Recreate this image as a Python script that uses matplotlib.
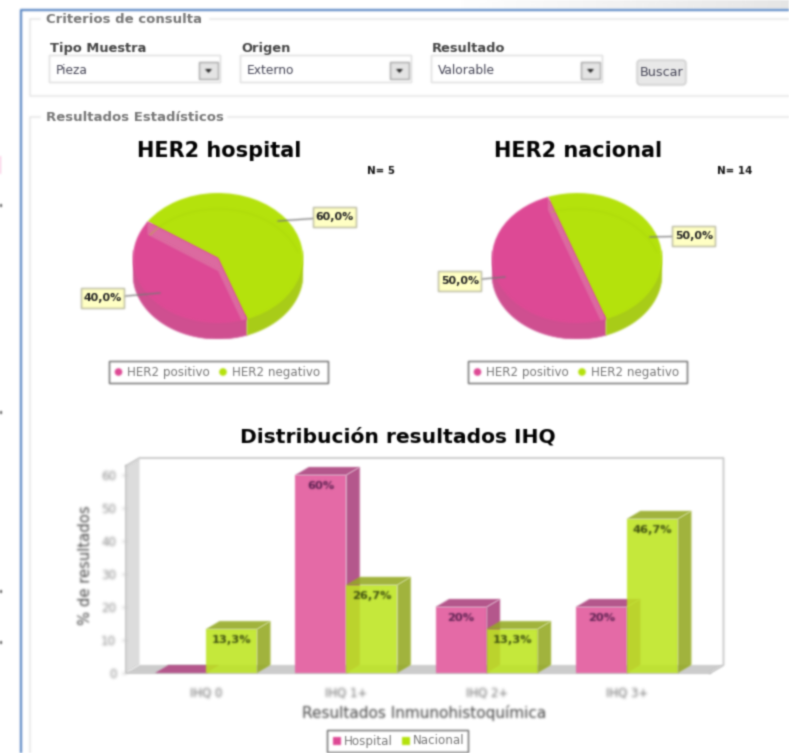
import numpy as np
import matplotlib
matplotlib.use("Agg")
import matplotlib.pyplot as plt
from matplotlib.patches import Polygon, Rectangle, FancyBboxPatch, Circle

W, H = 789, 753

pie_labels = ["HER2 positivo", "HER2 negativo"]
hospital_pie = [40.0, 60.0]
nacional_pie = [50.0, 50.0]

categories = ["IHQ 0", "IHQ 1+", "IHQ 2+", "IHQ 3+"]
hospital = [0, 60, 20, 20]
nacional = [13.3, 26.7, 13.3, 46.7]
hospital_txt = ["", "60%", "20%", "20%"]
nacional_txt = ["13,3%", "26,7%", "13,3%", "46,7%"]
yticks = [0, 10, 20, 30, 40, 50, 60]

PINK = "#de4a95"
PINK_SIDE = "#cf4f91"
PINK_BAND = "#dc6aa0"
GREEN = "#b5e20c"
GREEN_SIDE = "#a9cc18"


def soften(img, k):
    pad = 4
    im = np.pad(img, ((pad, pad), (pad, pad), (0, 0)))
    im[..., :3] *= im[..., 3:4]
    for axis in (0, 1):
        im = np.apply_along_axis(lambda v: np.convolve(v, k, mode="same"), axis, im)
    a = np.clip(im[..., 3:4], 1e-4, 1)
    im[..., :3] = np.clip(im[..., :3] / a, 0, 1)
    return im, -pad, -pad


def blur(img, dpi):
    # soft look of the screenshot, numpy only
    return soften(img, np.array([0.06, 0.24, 0.4, 0.24, 0.06]))


def blur_text(img, dpi):
    return soften(img, np.array([0.02, 0.2, 0.56, 0.2, 0.02]))


def box(x0, y0, x1, y1):
    # pixel box -> figure fraction
    return [x0 / W, 1 - y1 / H, (x1 - x0) / W, (y1 - y0) / H]


fig = plt.figure(figsize=(W / 100, H / 100), dpi=100, facecolor="white")

ui = fig.add_axes([0, 0, 1, 1])
ui.set_xlim(0, W)
ui.set_ylim(H, 0)
ui.axis("off")

# top right grey strip and blue frame
ui.imshow(np.linspace(1, 0.9, 200).reshape(1, -1), extent=(450, 789, 9, 0),
          cmap="gray", vmin=0, vmax=1, aspect="auto", zorder=0)
ui.set_xlim(0, W)
ui.set_ylim(H, 0)
ui.plot([21, 21, 789], [753, 10, 10], color="#5e8ac6", lw=1.6, zorder=1)

# fieldsets
grey = "#e6e6e6"
ui.plot([40, 30, 30, 789], [19, 19, 96, 96], color=grey, lw=1.1)
ui.plot([210, 789], [19, 19], color=grey, lw=1.1)
ui.plot([40, 30, 30], [117, 117, 753], color=grey, lw=1.1)
ui.plot([228, 789], [117, 117], color=grey, lw=1.1)
ui.text(46, 19, "Criterios de consulta", color="#777777", fontsize=9.5,
        fontweight="bold", va="center")
ui.text(46, 117, "Resultados Estadísticos", color="#777777", fontsize=9.5,
        fontweight="bold", va="center")

# combos
combo_names = ["Tipo Muestra", "Origen", "Resultado"]
combo_vals = ["Pieza", "Externo", "Valorable"]
combo_x = [49, 240, 431]
for name, val, x in zip(combo_names, combo_vals, combo_x):
    ui.text(x + 1, 48, name, color="#444444", fontsize=9.4, fontweight="bold", va="center")
    ui.add_patch(Rectangle((x, 55), 171, 27, fc="white", ec="#dddddd", lw=1))
    ui.text(x + 7, 70, val, color="#444455", fontsize=8.8, va="center")
    ui.add_patch(Rectangle((x + 150, 62), 19, 17, fc="#e4e4e4", ec="#a8a8a8", lw=1))
    ui.add_patch(Polygon([(x + 156, 69), (x + 163, 69), (x + 159.5, 73)], fc="#222222"))
ui.add_patch(FancyBboxPatch((639, 62), 45, 21, boxstyle="round,pad=2,rounding_size=4",
                            fc="#e8e8e8", ec="#cccccc", lw=1))
ui.text(661.5, 72.5, "Buscar", color="#444455", fontsize=9.2, ha="center", va="center")

# cut off marks at the left border
ui.add_patch(Rectangle((0, 156), 1.5, 18, fc="#f7b6d8", ec="none"))
for y in [205, 412, 591, 642]:
    ui.add_patch(Rectangle((0, y - 1.5), 2, 3, fc="#555555", ec="none"))


def pie3d(values, start, px, title, n_txt, n_x, lab_pos, tips):
    cx, cy, rx, ry, depth = px
    ax = fig.add_axes(box(cx - rx, cy - ry, cx + rx, cy + ry + depth))
    wedges, _ = ax.pie(values, colors=[PINK, GREEN], startangle=start, radius=1,
                       wedgeprops={"linewidth": 0})
    wedges[0].set_zorder(1.2)
    wedges[1].set_zorder(1)
    d = depth / ry
    ax.set_aspect("auto")
    ax.set_xlim(-1, 1)
    ax.set_ylim(-1 - d, 1)
    ax.axis("off")
    # rim of the disc
    a0 = start
    for v, c in zip(values, [PINK_SIDE, GREEN_SIDE]):
        a1 = a0 + v * 3.6
        t = np.radians(np.linspace(a0, a1, 200))
        t = t[np.sin(t) <= 0]
        if len(t):
            xs = np.cos(t)
            ys = np.sin(t)
            pts = np.r_[np.c_[xs, ys + 0.12], np.c_[xs, ys - d][::-1]]
            ax.add_patch(Polygon(pts, fc=c, ec=c, lw=0.5, zorder=0.5))
        a0 = a1
    # slightly smaller disc under the slices so no seam shows at the split
    ax.add_patch(Circle((0, 0), 0.93, fc=GREEN, ec="none", zorder=0.8))
    # lighter inner cut on the pink slice
    a = np.radians(start)
    b = np.radians(start + values[0] * 3.6)
    s = 13 / ry
    A, B = (np.cos(a), np.sin(a)), (np.cos(b), np.sin(b))
    band = Polygon([A, (0, 0), B, (B[0], B[1] - s), (0, -s), (A[0], A[1] - s)],
                   fc=PINK_BAND, ec="none", zorder=2)
    ax.add_patch(band)
    band.set_clip_path(wedges[0])
    # faint far edge of the rim
    t = np.radians(np.linspace(20, start - 3, 80))
    ax.plot(np.cos(t), np.sin(t) - d, color="#a6d20a", lw=0.8, alpha=0.5, zorder=3)

    ui.text(cx + 1, 150.5, title, fontsize=15, fontweight="bold", color="#000000",
            ha="center", va="center", zorder=5)
    ui.text(n_x, 171, n_txt, fontsize=7.4, fontweight="bold", color="#111111",
            ha="center", va="center", zorder=5)
    ov = fig.add_axes([0, 0, 1, 1], facecolor="none")
    ov.set_xlim(0, W)
    ov.set_ylim(H, 0)
    ov.axis("off")
    for v, (lx, ly), (tx, ty) in zip(values, lab_pos, tips):
        ov.plot([lx, tx], [ly, ty], color="#777777", lw=0.9, zorder=1)
        ov.add_patch(Rectangle((lx - 21.5, ly - 10), 43, 20, fc="#ffffc4", ec="#b8b8a0", lw=1,
                               zorder=2))
        ov.text(lx, ly, f"{v:.1f}%".replace(".", ","), fontsize=7.9, fontweight="bold",
                color="#222222", ha="center", va="center", zorder=3)
    # legend
    lx0 = cx - 109
    ov.add_patch(Rectangle((lx0, 361), 219, 22, fc="white", ec="#666666", lw=1))
    ov.add_patch(Circle((lx0 + 9.5, 372), 3.8, fc=PINK, ec="none"))
    ov.text(lx0 + 18, 372, pie_labels[0], fontsize=8.6, color="#777777", va="center")
    ov.add_patch(Circle((lx0 + 114, 372), 3.8, fc=GREEN, ec="none"))
    ov.text(lx0 + 123, 372, pie_labels[1], fontsize=8.6, color="#777777", va="center")


pie3d(hospital_pie, 146, (218, 258, 85, 65, 16), "HER2 hospital", "N= 5", 381,
      [(103, 298), (335, 217)], [(160, 293), (278, 221)])
pie3d(nacional_pie, 110, (577, 258, 85, 65, 16), "HER2 nacional", "N= 14", 735,
      [(460, 281), (694, 236)], [(505, 277), (650, 237)])

# bar chart
ax = fig.add_axes(box(126, 458, 710, 673))
step = 140.3
ax.set_xlim(-80 / step, 504 / step)
ax.set_ylim(0, 215 / 3.3)
ax.patch.set_visible(False)
for sp in ax.spines.values():
    sp.set_visible(False)
DX = 13.5 / step
DY = 8 / 3.3
BW = 51 / step
x0, x1 = ax.get_xlim()
y1 = ax.get_ylim()[1]
wall = "#dcdcdc"
ax.add_patch(Polygon([(x0, 0), (x0 + DX, DY), (x0 + DX, y1), (x0, y1 - DY)], fc=wall, ec="none",
                     clip_on=False, zorder=1))
ax.add_patch(Polygon([(x0, 0), (x0 + DX, DY), (x1 + DX, DY), (x1, 0)], fc="#cccccc", ec="none",
                     clip_on=False, zorder=1))
ax.plot([x0, x0 + DX, x1 + DX, x1 + DX, x1], [y1 - DY, y1, y1, DY, 0], color="#c8c8c8", lw=1.3,
        clip_on=False, zorder=1)
ax.plot([x0, x0, x1], [y1 - DY, 0, 0], color="#c4c4c4", lw=1.2, clip_on=False, zorder=2)


def bars3d(xs, vals, front, dark, alpha, z, txts, txtc):
    ax.bar(xs, vals, width=BW, align="edge", color=front, alpha=alpha, zorder=z, linewidth=0)
    for x, v, t in zip(xs, vals, txts):
        ax.add_patch(Polygon([(x + BW, 0), (x + BW + DX, DY), (x + BW + DX, v + DY), (x + BW, v)],
                             fc=dark, ec="none", alpha=alpha, zorder=z))
        ax.add_patch(Polygon([(x, v), (x + DX, v + DY), (x + BW + DX, v + DY), (x + BW, v)],
                             fc=dark, ec="none", alpha=alpha, zorder=z))
        if t:
            ax.annotate(t, (x + BW / 2, v), xytext=(0, -11), textcoords="offset pixels",
                        fontsize=8.2, fontweight="bold", color=txtc, ha="center", va="center",
                        zorder=10)


pos = np.arange(len(categories))
bars3d(pos - BW, hospital, "#e46aa6", "#b5578c", 1, 3, hospital_txt, "#5a2050")
bars3d(pos, nacional, "#bde520", "#94aa22", 0.88, 4, nacional_txt, "#3c4c10")

ax.set_xticks(pos, categories)
ax.set_yticks(yticks)
ax.tick_params(axis="x", length=0, pad=10, labelsize=8.4, labelcolor="#666666")
ax.tick_params(axis="y", length=3, width=0.8, color="#aaaaaa", pad=4, labelsize=8.6,
               labelcolor="#888888")
ax.set_ylabel("% de resultados", fontsize=10.6, color="#444444")
ax.yaxis.set_label_coords(-33 / 584, 108 / 215)
ax.set_xlabel("Resultados Inmunohistoquímica", fontsize=11, color="#444444")
ax.xaxis.set_label_coords(298 / 584, -32 / 215)
ui.text(398, 437, "Distribución resultados IHQ", fontsize=14.6, fontweight="bold",
        color="#000000", ha="center", va="center")

ov2 = fig.add_axes([0, 0, 1, 1], facecolor="none")
ov2.set_xlim(0, W)
ov2.set_ylim(H, 0)
ov2.axis("off")
ov2.add_patch(Rectangle((327, 730), 141, 22, fc="white", ec="#666666", lw=1))
ov2.add_patch(Rectangle((333, 737), 8, 8, fc="#de4a95", ec="none"))
ov2.text(344, 741, "Hospital", fontsize=8.6, color="#777777", va="center")
ov2.add_patch(Rectangle((402, 737), 8, 8, fc=GREEN, ec="none"))
ov2.text(413, 741, "Nacional", fontsize=8.6, color="#777777", va="center")

for a in fig.findobj(lambda o: hasattr(o, "set_agg_filter")):
    if a is fig or isinstance(a, plt.Axes):
        continue
    a.set_agg_filter(blur_text if isinstance(a, plt.Text) else blur)

fig.savefig("out.png", dpi=100)
